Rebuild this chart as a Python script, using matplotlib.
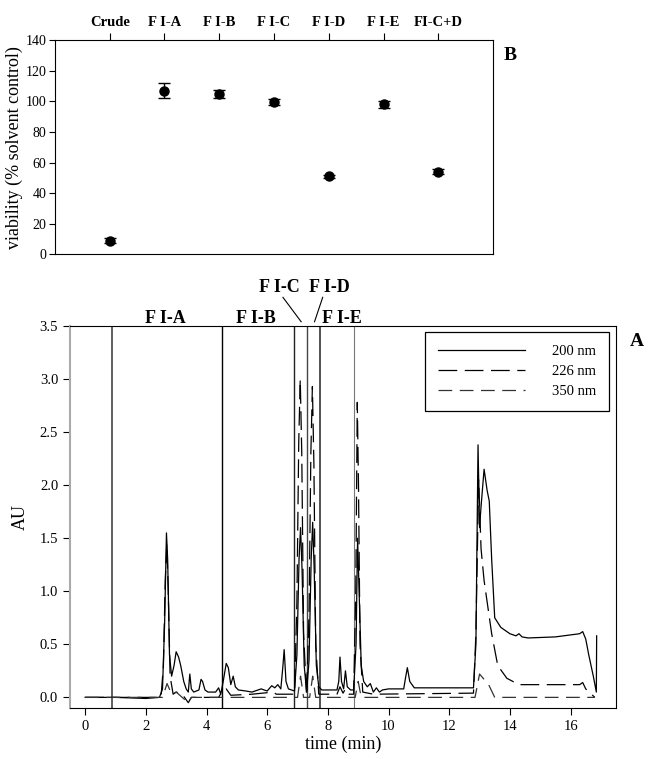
import matplotlib
matplotlib.use('Agg')
import matplotlib.pyplot as plt

plt.rcParams['font.family'] = ['Liberation Serif', 'DejaVu Serif']

# panel B: viability of fractions
fractions = ['Crude', 'F I-A', 'F I-B', 'F I-C', 'F I-D', 'F I-E', 'FI-C+D']
viability = [9, 107, 105, 99.5, 51, 98, 54]
viability_err = [1.5, 5, 2.5, 2, 1, 2.5, 1.5]

# panel A: chromatogram traces
t_200 = [0.0, 1.0, 2.0, 2.45, 2.55, 2.62, 2.68, 2.72, 2.78, 2.85, 2.93, 3.0, 3.08, 3.15, 3.25,
         3.33, 3.4, 3.45, 3.5, 3.58, 3.75, 3.82, 3.87, 3.95, 4.05, 4.3, 4.4, 4.47, 4.55, 4.65, 4.72,
         4.8, 4.88, 4.95, 5.05, 5.3, 5.5, 5.8, 6.0, 6.15, 6.25, 6.35, 6.45, 6.52, 6.56, 6.62, 6.7,
         6.9, 6.98, 7.05, 7.1, 7.15, 7.22, 7.3, 7.38, 7.45, 7.5, 7.55, 7.62, 7.7, 7.8, 8.3, 8.36,
         8.4, 8.45, 8.52, 8.58, 8.64, 8.75, 8.85, 8.93, 8.98, 9.03, 9.1, 9.18, 9.3, 9.4, 9.5, 9.6,
         9.7, 9.8, 10.0, 10.5, 10.57, 10.62, 10.7, 10.85, 11.0, 12.0, 12.8, 12.88, 12.95, 13.0,
         13.05, 13.15, 13.25, 13.32, 13.4, 13.5, 13.7, 14.0, 14.2, 14.3, 14.4, 14.6, 15.5, 16.3,
         16.4, 16.5, 16.6, 16.75, 16.85, 16.86]
au_200 = [0.0, 0.0, -0.01, 0.0, 0.08, 0.7, 1.55, 1.3, 0.4, 0.2, 0.3, 0.43, 0.38, 0.3, 0.15,
          0.08, 0.05, 0.22, 0.08, 0.05, 0.07, 0.17, 0.15, 0.07, 0.05, 0.05, 0.09, 0.03, 0.15, 0.32,
          0.28, 0.12, 0.2, 0.1, 0.07, 0.06, 0.05, 0.08, 0.06, 0.11, 0.09, 0.12, 0.08, 0.3, 0.45,
          0.15, 0.08, 0.06, 0.4, 1.3, 1.6, 1.2, 0.3, 0.05, 0.35, 1.3, 1.65, 1.2, 0.3, 0.1, 0.07,
          0.07, 0.15, 0.38, 0.15, 0.08, 0.25, 0.1, 0.07, 0.07, 0.5, 1.5, 1.0, 0.3, 0.15, 0.1, 0.13,
          0.05, 0.09, 0.05, 0.07, 0.08, 0.08, 0.2, 0.28, 0.15, 0.09, 0.09, 0.09, 0.09, 0.5, 2.38,
          1.6, 1.8, 2.15, 1.95, 1.85, 1.3, 0.75, 0.66, 0.6, 0.58, 0.6, 0.57, 0.56, 0.57, 0.6, 0.62,
          0.55, 0.4, 0.2, 0.05, 0.58]

t_226 = [0.0, 2.0, 2.5, 2.58, 2.64, 2.69, 2.74, 2.8, 2.9, 3.0, 3.2, 3.4, 3.5, 4.4, 4.5, 4.65,
         4.8, 5.5, 6.2, 6.3, 6.9, 6.98, 7.04, 7.09, 7.14, 7.2, 7.3, 7.38, 7.44, 7.49, 7.54, 7.6,
         7.7, 8.3, 8.4, 8.5, 8.58, 8.7, 8.85, 8.92, 8.97, 9.01, 9.06, 9.15, 9.5, 12.8, 12.88,
         12.97, 13.05, 13.15, 13.25, 13.4, 13.6, 13.9, 14.3, 16.3, 16.4, 16.5, 16.8]
au_226 = [0.0, 0.0, 0.0, 0.3, 1.1, 1.45, 1.0, 0.2, 0.03, 0.05, 0.03, -0.05, 0.0, 0.0, 0.05, 0.08,
          0.02, 0.03, 0.05, 0.03, 0.03, 0.9, 2.4, 3.0, 2.3, 0.6, 0.02, 0.8, 2.3, 2.93, 2.2, 0.5,
          0.03, 0.03, 0.1, 0.04, 0.08, 0.03, 0.03, 1.0, 2.78, 2.0, 0.5, 0.05, 0.03, 0.04, 0.6,
          2.05, 1.4, 1.1, 0.9, 0.6, 0.3, 0.18, 0.12, 0.12, 0.14, 0.08, 0.0]

t_350 = [0.0, 2.55, 2.7, 2.85, 3.0, 3.4, 3.5, 7.0, 7.1, 7.2, 7.4, 7.5, 7.6, 8.9, 9.0, 9.1,
         12.85, 12.92, 13.0, 13.15, 13.3, 13.5, 16.8]
au_350 = [0.0, 0.0, 0.13, 0.03, 0.05, -0.05, 0.0, 0.0, 0.2, 0.0, 0.0, 0.2, 0.0, 0.0, 0.15, 0.0,
          0.0, 0.1, 0.22, 0.17, 0.12, 0.0, 0.0]

# fraction cut times
cuts = [0.9, 4.5, 6.9, 7.3, 7.75, 8.85]
cut_colors = ['#444444', 'black', '#222222', '#444444', '#333333', '#777777']
cut_widths = [1.2, 1.0, 1.0, 1.0, 1.2, 0.8]

fig = plt.figure(figsize=(6.54, 7.59), dpi=100)

# ---- panel B ----
ax1 = fig.add_axes([0.084, 0.665, 0.670, 0.282])
xpos = list(range(1, len(fractions) + 1))
ax1.errorbar(xpos, viability, yerr=viability_err, fmt='o', color='black',
             markersize=6.5, capsize=4, elinewidth=1, capthick=1)
ax1.set_xlim(0, 8)
ax1.set_ylim(0, 140)
ax1.set_yticks(range(0, 141, 20))
ax1.xaxis.tick_top()
ax1.set_xticks(xpos)
ax1.set_xticklabels(fractions, fontweight='bold', fontsize=10.5)
ax1.tick_params(axis='x', direction='out', length=5, width=0.8, pad=3)
ax1.tick_params(axis='y', direction='out', length=4, width=0.8, pad=2, labelsize=10)
ax1.set_ylabel('viability (% solvent control)', fontsize=13, labelpad=2)
ax1.text(1.025, 0.93, 'B', transform=ax1.transAxes, fontsize=14, fontweight='bold',
         ha='left', va='center')

# ---- panel A ----
ax2 = fig.add_axes([0.107, 0.0672, 0.835, 0.5033])
for c, col, w in zip(cuts, cut_colors, cut_widths):
    ax2.axvline(c, color=col, linewidth=w)
ax2.plot(t_200, au_200, color='black', linewidth=0.9, label='200 nm')
ax2.plot(t_226, au_226, color='black', linewidth=0.9, linestyle=(0, (15, 6)), label='226 nm')
ax2.plot(t_350, au_350, color='#333333', linewidth=0.9, linestyle=(0, (11, 6)), label='350 nm')

ax2.set_xlim(-0.5, 17.5)
ax2.set_ylim(-0.1, 3.5)
ax2.set_xticks(range(0, 17, 2))
ax2.set_yticks([0.0, 0.5, 1.0, 1.5, 2.0, 2.5, 3.0, 3.5])
ax2.set_yticklabels([f'{v:.1f}' for v in ax2.get_yticks()])
ax2.tick_params(direction='out', length=5, width=0.8, labelsize=10.5)
ax2.spines['left'].set_color('#aaaaaa')
ax2.spines['left'].set_linewidth(1.5)
ax2.set_xlabel('time (min)', fontsize=13, labelpad=2)
ax2.set_ylabel('AU', fontsize=13, labelpad=8)

leg = ax2.legend(loc='upper right', bbox_to_anchor=(0.987, 0.984), borderaxespad=0,
                 handlelength=6, fontsize=10.5, fancybox=False, edgecolor='black',
                 framealpha=1, borderpad=0.9, labelspacing=0.45, handletextpad=1.8)
leg.get_frame().set_linewidth(0.9)

# fraction labels above the chromatogram
lab_kw = dict(fontsize=13, fontweight='bold', ha='center', va='center', clip_on=False)
ax2.text(2.63, 3.575, 'F I-A', **lab_kw)
ax2.text(5.63, 3.575, 'F I-B', **lab_kw)
ax2.text(6.39, 3.866, 'F I-C', **lab_kw)
ax2.text(8.04, 3.866, 'F I-D', **lab_kw)
ax2.text(8.46, 3.575, 'F I-E', **lab_kw)
ax2.plot([6.52, 7.12], [3.77, 3.54], color='black', linewidth=0.8, clip_on=False)
ax2.plot([7.83, 7.56], [3.77, 3.54], color='black', linewidth=0.8, clip_on=False)
ax2.text(1.025, 0.96, 'A', transform=ax2.transAxes, fontsize=14, fontweight='bold',
         ha='left', va='center')

fig.savefig('out.png', dpi=100)
